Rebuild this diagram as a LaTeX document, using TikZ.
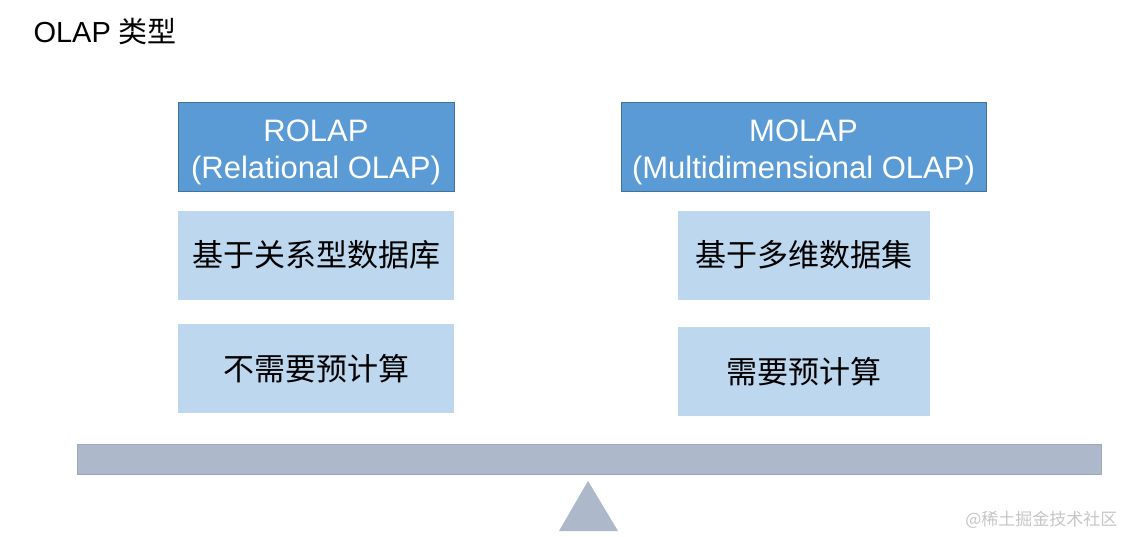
\documentclass[tikz,border=0pt]{standalone}
\usepackage{fontspec}
\setmainfont{Liberation Sans}
\newfontfamily\cjk{Noto Sans CJK SC}
\usepackage{xcolor}
\usetikzlibrary{positioning}
\definecolor{hdrblue}{HTML}{5B9BD5}
\definecolor{hdredge}{HTML}{41719C}
\definecolor{itemblue}{HTML}{BDD7EE}
\definecolor{beamgray}{HTML}{ADB9CA}
\definecolor{beamedge}{HTML}{9EA9B8}

\begin{document}
\begin{tikzpicture}[
  x=1pt, y=-1pt,
  hdr/.style={draw=hdredge, line width=1pt, fill=hdrblue, text=white,
              minimum height=89pt, inner sep=0pt, align=center,
              font=\fontsize{31}{37}\selectfont},
  item/.style={fill=itemblue, minimum height=89pt, inner sep=0pt,
               font=\cjk\fontsize{31}{36}\selectfont},
  beam/.style={fill=beamgray, draw=beamedge, line width=0.8pt},
  node distance=18pt
]
  \useasboundingbox (0,0) rectangle (1127,537);

  % Title
  \node[anchor=west, font=\fontsize{29}{34}\selectfont] (title) at (30,31)
    {OLAP {\cjk 类型}};

  % Left side
  \node[hdr, minimum width=276pt] (rolap) at (316,147.5)
    {\rule{0pt}{31pt}ROLAP\\(Relational OLAP)};
  \node[item, minimum width=276pt, below=of rolap] (rdb) {基于关系型数据库};
  \node[item, minimum width=276pt, below=24pt of rdb] (rnopre) {不需要预计算};

  % Right side
  \node[hdr, minimum width=365pt] (molap) at (803.5,147.5)
    {\rule{0pt}{31pt}MOLAP\\(Multidimensional OLAP)};
  \node[item, minimum width=252pt, below=of molap] (mcube) {基于多维数据集};
  \node[item, minimum width=252pt, below=27pt of mcube] (mpre) {需要预计算};

  % Balance
  \node[beam, minimum width=1024pt, minimum height=30pt, inner sep=0pt]
    (beam) at (589,459) {};
  \fill[beamgray] (588,481) -- (618,531) -- (559,531) -- cycle;

  % Watermark
  \node[anchor=east, text=gray!45, font=\cjk\fontsize{17}{20}\selectfont]
    (mark) at (1121,520) {@稀土掘金技术社区};
\end{tikzpicture}
\end{document}
